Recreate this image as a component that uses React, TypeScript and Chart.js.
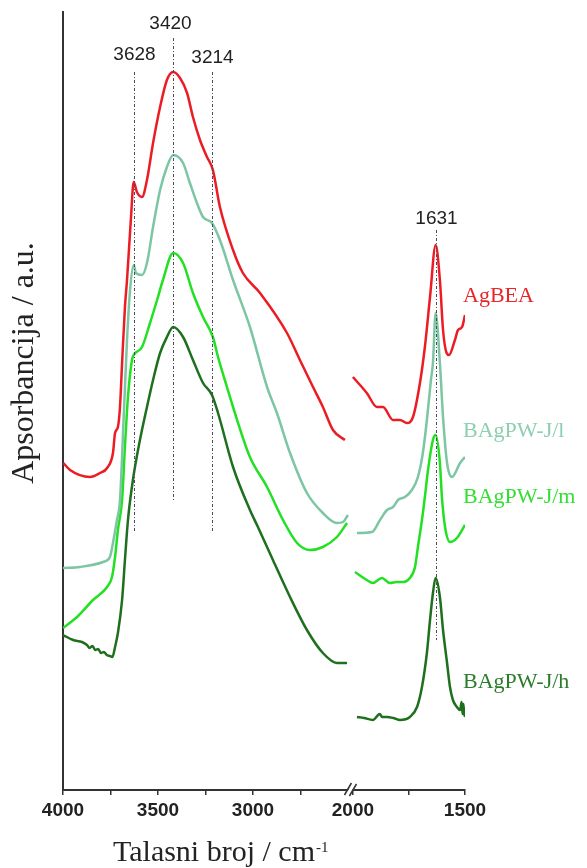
import React, { useEffect, useRef } from 'react';
import { Chart, registerables } from 'chart.js';

Chart.register(...registerables);

// ---------------- data (wavenumber / cm-1, absorbance / a.u.) ----------------
const SERIES_NAMES = ['AgBEA', 'BAgPW-J/l', 'BAgPW-J/m', 'BAgPW-J/h'];

// O-H stretching region (4000 - 2500 cm-1)
const AGBEA_OH_WN = [3998, 3963, 3858, 3805, 3768, 3737, 3726, 3711, 3700, 3689, 3674, 3663, 3642, 3628, 3611, 3584, 3558, 3526, 3489, 3453, 3420, 3384, 3347, 3316, 3279, 3242, 3211, 3174, 3105, 3053, 2963, 2821, 2753, 2684, 2632, 2579, 2516];
const AGBEA_OH_ABS = [3.27, 3.20, 3.13, 3.17, 3.22, 3.37, 3.57, 3.63, 3.83, 4.27, 4.83, 5.10, 5.73, 6.08, 5.98, 5.93, 6.10, 6.47, 6.83, 7.10, 7.18, 7.12, 6.97, 6.73, 6.50, 6.33, 6.20, 5.83, 5.40, 5.17, 4.97, 4.57, 4.30, 4.03, 3.83, 3.60, 3.50];
const AGBEA_BEND_WN = [2000, 1938, 1893, 1866, 1821, 1790, 1759, 1732, 1701, 1679, 1656, 1631, 1612, 1598, 1582, 1571, 1545, 1531, 1513, 1500];
const AGBEA_BEND_ABS = [4.13, 3.97, 3.83, 3.83, 3.70, 3.70, 3.67, 3.73, 4.07, 4.43, 4.93, 5.45, 5.10, 4.60, 4.37, 4.35, 4.50, 4.60, 4.63, 4.75];

const LOW_OH_WN = [4000, 3911, 3789, 3753, 3737, 3716, 3700, 3679, 3663, 3647, 3628, 3616, 3584, 3558, 3526, 3489, 3453, 3420, 3368, 3332, 3295, 3263, 3216, 3174, 3105, 3016, 2926, 2874, 2805, 2716, 2632, 2558, 2526, 2500];
const LOW_OH_ABS = [2.22, 2.23, 2.28, 2.33, 2.47, 2.70, 2.90, 3.80, 4.50, 5.00, 5.25, 5.17, 5.15, 5.27, 5.63, 6.00, 6.23, 6.35, 6.27, 6.07, 5.87, 5.73, 5.67, 5.50, 5.10, 4.63, 4.03, 3.77, 3.37, 2.97, 2.77, 2.67, 2.68, 2.75];
const LOW_BEND_WN = [1982, 1915, 1879, 1848, 1821, 1799, 1768, 1737, 1710, 1688, 1670, 1652, 1643, 1631, 1612, 1598, 1580, 1558, 1522, 1500];
const LOW_BEND_ABS = [2.57, 2.58, 2.70, 2.80, 2.83, 2.90, 2.93, 3.00, 3.13, 3.37, 3.70, 4.10, 4.27, 4.77, 4.27, 3.73, 3.27, 3.13, 3.27, 3.33];

const MED_OH_WN = [4000, 3926, 3842, 3768, 3742, 3726, 3711, 3689, 3674, 3658, 3637, 3628, 3584, 3542, 3500, 3474, 3420, 3368, 3316, 3263, 3211, 3184, 3137, 3105, 3016, 2926, 2842, 2768, 2700, 2632, 2558, 2505];
const MED_OH_ABS = [1.62, 1.73, 1.90, 2.03, 2.13, 2.33, 2.60, 2.90, 3.43, 3.93, 4.30, 4.35, 4.43, 4.67, 4.93, 5.10, 5.37, 5.27, 4.97, 4.73, 4.53, 4.33, 4.03, 3.83, 3.33, 3.03, 2.70, 2.47, 2.40, 2.43, 2.53, 2.67];
const MED_BEND_WN = [1991, 1938, 1911, 1871, 1835, 1804, 1777, 1746, 1723, 1710, 1692, 1679, 1665, 1643, 1631, 1612, 1603, 1589, 1567, 1536, 1500];
const MED_BEND_ABS = [2.18, 2.10, 2.07, 2.12, 2.07, 2.08, 2.08, 2.12, 2.23, 2.43, 2.70, 2.93, 3.20, 3.50, 3.55, 3.27, 2.93, 2.63, 2.48, 2.52, 2.65];

const HIGH_OH_WN = [4000, 3947, 3900, 3874, 3860, 3845, 3830, 3815, 3800, 3785, 3770, 3753, 3740, 3726, 3711, 3689, 3674, 3658, 3632, 3595, 3558, 3526, 3489, 3453, 3420, 3368, 3316, 3263, 3216, 3184, 3105, 3016, 2974, 2895, 2805, 2716, 2632, 2558, 2505];
const HIGH_OH_ABS = [1.55, 1.50, 1.48, 1.45, 1.42, 1.44, 1.40, 1.41, 1.37, 1.38, 1.35, 1.34, 1.33, 1.43, 1.57, 1.90, 2.30, 2.70, 3.10, 3.50, 3.83, 4.10, 4.37, 4.53, 4.63, 4.53, 4.30, 4.07, 3.95, 3.77, 3.23, 2.80, 2.63, 2.30, 1.93, 1.60, 1.37, 1.27, 1.27];
const HIGH_BEND_WN = [1982, 1950, 1911, 1880, 1870, 1848, 1820, 1790, 1746, 1714, 1692, 1670, 1656, 1643, 1631, 1612, 1598, 1580, 1567, 1554, 1536, 1522, 1515, 1511, 1507, 1503, 1500];
const HIGH_BEND_ABS = [0.73, 0.72, 0.70, 0.76, 0.73, 0.73, 0.72, 0.70, 0.73, 0.83, 1.03, 1.37, 1.70, 1.97, 2.12, 1.93, 1.60, 1.27, 1.03, 0.90, 0.83, 0.80, 0.88, 0.76, 0.86, 0.74, 0.80];

const PEAK_WN = [3628, 3420, 3214, 1631];
const X_TICKS_OH = [4000, 3750, 3500, 3250, 3000, 2750];
const X_TICKS_BEND = [2000, 1750, 1500];
const X_TITLE = 'Talasni broj / cm';
const X_TITLE_SUP = '-1';
const Y_TITLE = 'Apsorbancija / a.u.';

// ---------------- styling / layout config ----------------
const LINE_COLORS = ['#ec1c24', '#7cc6a3', '#22e022', '#1e6f1e'];
const LABEL_COLORS = ['#e8262a', '#8ccfb1', '#33df33', '#2a7d2a'];
const LABEL_Y = [4.94, 3.59, 2.93, 1.08];
const PEAK_LINE_FROM = [2.57, 2.90, 2.58, 1.50];
const PEAK_LINE_TO = [7.18, 7.52, 7.18, 5.60];
const PEAK_LABEL_Y = [7.30, 7.61, 7.27, 5.66];

// broken axis mapping: 4000-2500 on the left, 2000-1500 (stretched) on the right
const OH_START = 4000;
const BEND_START = 2000;
const BEND_OFFSET = 1526;
const BEND_STRETCH = 1.18;
const X_MAX = BEND_OFFSET + 500 * BEND_STRETCH;
const BREAK_AT = 1513;
const toAxis = (wn: number) =>
  wn > 2250 ? OH_START - wn : BEND_OFFSET + (BEND_START - wn) * BEND_STRETCH;

const pts = (wn: number[], ab: number[]) => wn.map((w, i) => ({ x: toAxis(w), y: ab[i] }));

const SECTIONS = [
  [AGBEA_OH_WN, AGBEA_OH_ABS, AGBEA_BEND_WN, AGBEA_BEND_ABS],
  [LOW_OH_WN, LOW_OH_ABS, LOW_BEND_WN, LOW_BEND_ABS],
  [MED_OH_WN, MED_OH_ABS, MED_BEND_WN, MED_BEND_ABS],
  [HIGH_OH_WN, HIGH_OH_ABS, HIGH_BEND_WN, HIGH_BEND_ABS],
];

const TICK_WN = [...X_TICKS_OH, ...X_TICKS_BEND];

const SERIF = '"Liberation Serif", "Times New Roman", serif';
const SANS = '"Liberation Sans", Arial, sans-serif';

const annotations = {
  id: 'spectraAnnotations',
  afterDatasetsDraw(chart: any) {
    const { ctx, chartArea, scales } = chart;
    const x = scales.x;
    const y = scales.y;
    ctx.save();
    // peak marker lines and labels
    PEAK_WN.forEach((p, i) => {
      const px = Math.round(x.getPixelForValue(toAxis(p))) + 0.5;
      ctx.strokeStyle = '#4a4a5a';
      ctx.lineWidth = 1;
      ctx.setLineDash([3, 2, 1, 2]);
      ctx.beginPath();
      ctx.moveTo(px, y.getPixelForValue(PEAK_LINE_TO[i]));
      ctx.lineTo(px, y.getPixelForValue(PEAK_LINE_FROM[i]));
      ctx.stroke();
      ctx.setLineDash([]);
      ctx.fillStyle = '#222';
      ctx.font = '19px ' + SANS;
      ctx.textAlign = 'center';
      ctx.textBaseline = 'alphabetic';
      ctx.fillText(String(p), px - (i === 1 ? 3 : 0), y.getPixelForValue(PEAK_LABEL_Y[i]));
    });
    // series names
    SERIES_NAMES.forEach((name, i) => {
      ctx.fillStyle = LABEL_COLORS[i];
      ctx.font = '22px ' + SERIF;
      ctx.textAlign = 'left';
      ctx.textBaseline = 'middle';
      ctx.fillText(name, chartArea.right - 2, y.getPixelForValue(LABEL_Y[i]));
    });
    ctx.restore();
  },
  afterDraw(chart: any) {
    const { ctx, chartArea, scales } = chart;
    const x = scales.x;
    ctx.save();
    // axis break marks
    const bx = x.getPixelForValue(BREAK_AT);
    const by = chartArea.bottom;
    ctx.fillStyle = '#fff';
    ctx.beginPath();
    ctx.moveTo(bx - 5, by + 5);
    ctx.lineTo(bx + 2, by - 7);
    ctx.lineTo(bx + 6, by - 7);
    ctx.lineTo(bx - 1, by + 5);
    ctx.closePath();
    ctx.fill();
    ctx.strokeStyle = '#333';
    ctx.lineWidth = 1.5;
    ctx.beginPath();
    ctx.moveTo(bx - 6, by + 5);
    ctx.lineTo(bx + 1, by - 7);
    ctx.moveTo(bx - 1, by + 6);
    ctx.lineTo(bx + 6, by - 6);
    ctx.stroke();
    // axis titles
    ctx.fillStyle = '#222';
    ctx.textBaseline = 'alphabetic';
    ctx.textAlign = 'left';
    ctx.font = '30px ' + SERIF;
    const tx = 113;
    const ty = 861;
    ctx.fillText(X_TITLE, tx, ty);
    const w = ctx.measureText(X_TITLE).width;
    ctx.font = '15px ' + SERIF;
    ctx.fillText(X_TITLE_SUP, tx + w + 1, ty - 9);
    ctx.translate(33, 363);
    ctx.rotate(-Math.PI / 2);
    ctx.textAlign = 'center';
    ctx.font = '32px ' + SERIF;
    ctx.fillText(Y_TITLE, 0, 0);
    ctx.restore();
  },
};

export default function App() {
  const ref = useRef<HTMLCanvasElement | null>(null);
  useEffect(() => {
    document.body.style.margin = '0';
    const datasets: any[] = [];
    SECTIONS.forEach((s, i) => {
      [pts(s[0], s[1]), pts(s[2], s[3])].forEach((data) => {
        datasets.push({
          label: SERIES_NAMES[i],
          data,
          borderColor: LINE_COLORS[i],
          backgroundColor: LINE_COLORS[i],
          borderWidth: 2.5,
          pointRadius: 0,
          cubicInterpolationMode: 'monotone',
          fill: false,
        });
      });
    });
    const chart = new Chart(ref.current as HTMLCanvasElement, {
      type: 'line',
      data: { datasets },
      options: {
        animation: false,
        responsive: false,
        devicePixelRatio: 1,
        layout: { padding: { top: 12, right: 122, left: 0, bottom: 0 } },
        plugins: { legend: { display: false }, tooltip: { enabled: false }, title: { display: false } },
        scales: {
          x: {
            type: 'linear',
            min: 0,
            max: X_MAX,
            afterBuildTicks: (scale: any) => {
              scale.ticks = TICK_WN.map((w) => ({ value: toAxis(w) }));
            },
            afterFit: (scale: any) => {
              scale.height = 78;
            },
            grid: { display: true, drawOnChartArea: false, drawTicks: true, tickLength: 5, color: '#333', lineWidth: 1.5 },
            border: { display: true, color: '#333', width: 2 },
            ticks: {
              autoSkip: false,
              maxRotation: 0,
              padding: 4,
              color: '#222',
              font: { family: SANS, size: 19, weight: 'bold' },
              callback: (_v: any, index: number) => (TICK_WN[index] % 500 === 0 ? String(TICK_WN[index]) : ''),
            },
          },
          y: {
            type: 'linear',
            min: 0,
            max: 7.78,
            afterFit: (scale: any) => {
              scale.width = 63;
            },
            ticks: { display: false },
            grid: { display: false },
            border: { display: true, color: '#333', width: 2 },
          },
        },
      } as any,
      plugins: [annotations],
    });
    return () => chart.destroy();
  }, []);
  return (
    <div style={{ position: 'absolute', left: 0, top: 0, width: 587, height: 868, background: '#fff' }}>
      <canvas ref={ref} width={587} height={868} style={{ display: 'block' }} />
    </div>
  );
}
